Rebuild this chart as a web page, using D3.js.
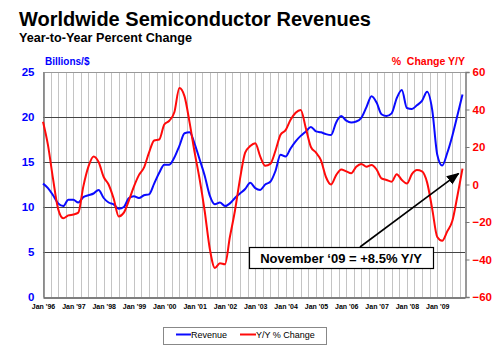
<!DOCTYPE html>
<html>
<head>
<meta charset="utf-8">
<script src="https://cdn.jsdelivr.net/npm/d3@7"></script>
<style>
body { margin: 0; background: #fff; }
svg { font-family: "Liberation Sans", Arial, sans-serif; }
</style>
</head>
<body>
<script>
// values every 2 months, Jan '96 .. Nov '09
var revenue = [12.6, 12.1, 11.3, 10.4, 10.1, 10.8, 10.8, 10.5, 11.1, 11.3, 11.5, 11.9,
    11.0, 10.5, 10.3, 9.8, 10.0, 11.0, 11.2, 11.0, 11.3, 11.4, 12.6, 13.8,
    14.7, 14.7, 15.5, 16.8, 18.2, 18.3, 17.0, 15.3, 13.5, 11.3, 10.3, 10.5,
    10.1, 10.4, 11.0, 11.5, 12.0, 12.7, 12.1, 11.9, 12.5, 12.8, 14.0, 15.8,
    15.6, 16.5, 17.3, 17.9, 18.4, 18.9, 18.4, 18.3, 18.1, 18.0, 19.4, 20.1,
    19.6, 19.4, 19.5, 19.9, 21.1, 22.3, 21.6, 20.3, 20.1, 20.4, 22.1, 23.0,
    21.0, 20.9, 21.3, 21.8, 22.8, 20.8, 15.8, 14.6, 16.0, 17.9, 20.2, 22.5];
var yoy = [33.5, 21, 3, -13, -18, -16.5, -16, -15, -1, 9.5, 15, 12,
    4, 0, -7.5, -17, -15, -8.5, -1, 5, 9, 17, 23.5, 24,
    32, 34, 38.5, 51.5, 47, 33, 17, 3, -14, -34, -44.5, -42,
    -42.5, -28, -14, 3, 17, 20.5, 22, 15, 10, 11, 18, 26.5,
    29, 34.5, 38.3, 39.8, 30, 20, 17, 13, 4, 0, 5, 8,
    7, 6, 9.5, 11, 9.5, 10.4, 8, 3.3, 2.4, 1.5, 5.5, 2.4,
    0.5, 5.5, 7.7, 7, 1, -13, -28, -30, -25, -19.5, -6, 8.5];
var months = d3.timeMonth.every(2).range(new Date(1996, 0, 1), new Date(2009, 11, 1));
var yearTicks = d3.timeYear.range(new Date(1996, 0, 1), new Date(2009, 1, 1));
var leftTicks = [0, 5, 10, 15, 20, 25];
var rightTicks = [-60, -40, -20, 0, 20, 40, 60];
var note = "November \u201809 = +8.5% Y/Y";

var W = 500, H = 352;
var svg = d3.select("body").append("svg").attr("width", W).attr("height", H);

var x = d3.scaleTime().domain([new Date(1996, 0, 1), new Date(2009, 11, 1)]).range([43, 465]);
var yL = d3.scaleLinear().domain([0, 25]).range([297, 72]);
var yR = d3.scaleLinear().domain([-60, 60]).range([297, 72]);

// titles
svg.append("text").attr("x", 19).attr("y", 26).attr("font-size", 20).attr("font-weight", "bold")
    .text("Worldwide Semiconductor Revenues");
svg.append("text").attr("x", 19).attr("y", 42).attr("font-size", 12.6).attr("font-weight", "bold")
    .text("Year-to-Year Percent Change");
svg.append("text").attr("x", 45).attr("y", 65).attr("font-size", 10).attr("font-weight", "bold")
    .attr("fill", "#0000ff").text("Billions/$");
svg.append("text").attr("x", 465).attr("y", 65).attr("font-size", 10.5).attr("font-weight", "bold")
    .attr("fill", "#ff0000").attr("text-anchor", "end").attr("xml:space", "preserve")
    .text("%  Change Y/Y");

// vertical grid, quarterly
svg.append("g").selectAll("line")
    .data(d3.timeMonth.every(3).range(new Date(1996, 0, 1), new Date(2009, 11, 2)))
    .join("line")
    .attr("x1", d => Math.round(x(d)) + 0.5).attr("x2", d => Math.round(x(d)) + 0.5)
    .attr("y1", 72).attr("y2", 297)
    .attr("stroke", "#c4c4c4").attr("stroke-width", 1);

// horizontal grid
svg.append("g").selectAll("line").data([5, 10, 15, 20]).join("line")
    .attr("x1", 43).attr("x2", 465)
    .attr("y1", d => Math.round(yL(d)) + 0.5).attr("y2", d => Math.round(yL(d)) + 0.5)
    .attr("stroke", "#444").attr("stroke-width", 1);
svg.append("line").attr("x1", 43).attr("x2", 465).attr("y1", 72.5).attr("y2", 72.5)
    .attr("stroke", "#999");

// axes
var left = svg.append("g").attr("transform", "translate(43.5,0)")
    .call(d3.axisLeft(yL).tickValues(leftTicks).tickSize(0).tickPadding(9));
left.select(".domain").attr("stroke", "#777").attr("stroke-width", 1.5);
left.selectAll("text").attr("fill", "#0000ff").attr("font-size", 11.5).attr("font-weight", "bold")
    .attr("font-family", "Liberation Sans, Arial, sans-serif");

var right = svg.append("g").attr("transform", "translate(465.5,0)")
    .call(d3.axisRight(yR).tickValues(rightTicks).tickSize(4).tickPadding(3));
right.select(".domain").attr("stroke", "#777").attr("stroke-width", 1.5);
right.selectAll("line").attr("stroke", "#777");
right.selectAll("text").attr("fill", "#ff0000").attr("font-size", 11.5).attr("font-weight", "bold")
    .attr("font-family", "Liberation Sans, Arial, sans-serif");

var bottom = svg.append("g").attr("transform", "translate(0,297.5)")
    .call(d3.axisBottom(x).tickValues(yearTicks).tickSize(0).tickPadding(7)
        .tickFormat(d3.timeFormat("Jan '%y")));
bottom.select(".domain").attr("stroke", "#555").attr("stroke-width", 1.5);
bottom.selectAll("text").attr("fill", "#000").attr("font-size", 7).attr("font-weight", "bold")
    .attr("font-family", "Liberation Sans, Arial, sans-serif");

// series
var revLine = d3.line().x((d, i) => x(months[i])).y(d => yL(d)).curve(d3.curveMonotoneX);
var yoyLine = d3.line().x((d, i) => x(months[i])).y(d => yR(d)).curve(d3.curveMonotoneX);
svg.append("path").datum(revenue).attr("d", revLine)
    .attr("fill", "none").attr("stroke", "#0a0aff").attr("stroke-width", 2);
svg.append("path").datum(yoy).attr("d", yoyLine)
    .attr("fill", "none").attr("stroke", "#ff0a0a").attr("stroke-width", 2);

// annotation
svg.append("defs").append("marker").attr("id", "head")
    .attr("viewBox", "0 0 10 10").attr("refX", 9).attr("refY", 5)
    .attr("markerWidth", 8).attr("markerHeight", 8).attr("orient", "auto")
    .append("path").attr("d", "M0,1 L10,5 L0,9 Z").attr("fill", "#000");
var last = months.length - 1;
svg.append("line").attr("x1", 360).attr("y1", 247)
    .attr("x2", x(months[last]) - 4).attr("y2", yR(yoy[last]) + 5)
    .attr("stroke", "#000").attr("stroke-width", 1.6).attr("marker-end", "url(#head)");
svg.append("rect").attr("x", 249.5).attr("y", 247.5).attr("width", 184).attr("height", 21)
    .attr("fill", "#fff").attr("stroke", "#000").attr("stroke-width", 1.2);
svg.append("text").attr("x", 341).attr("y", 262.5).attr("text-anchor", "middle")
    .attr("font-size", 13).attr("font-weight", "bold").text(note);

// legend
var lg = svg.append("g");
lg.append("rect").attr("x", 163.5).attr("y", 327.5).attr("width", 163).attr("height", 17)
    .attr("fill", "#fff").attr("stroke", "#888");
lg.append("line").attr("x1", 176).attr("x2", 191).attr("y1", 334.5).attr("y2", 334.5)
    .attr("stroke", "#0a0aff").attr("stroke-width", 2);
lg.append("text").attr("x", 191).attr("y", 338).attr("font-size", 9).text("Revenue");
lg.append("line").attr("x1", 240).attr("x2", 256).attr("y1", 334.5).attr("y2", 334.5)
    .attr("stroke", "#ff0a0a").attr("stroke-width", 2);
lg.append("text").attr("x", 256).attr("y", 338).attr("font-size", 9).text("Y/Y % Change");
</script>
</body>
</html>
